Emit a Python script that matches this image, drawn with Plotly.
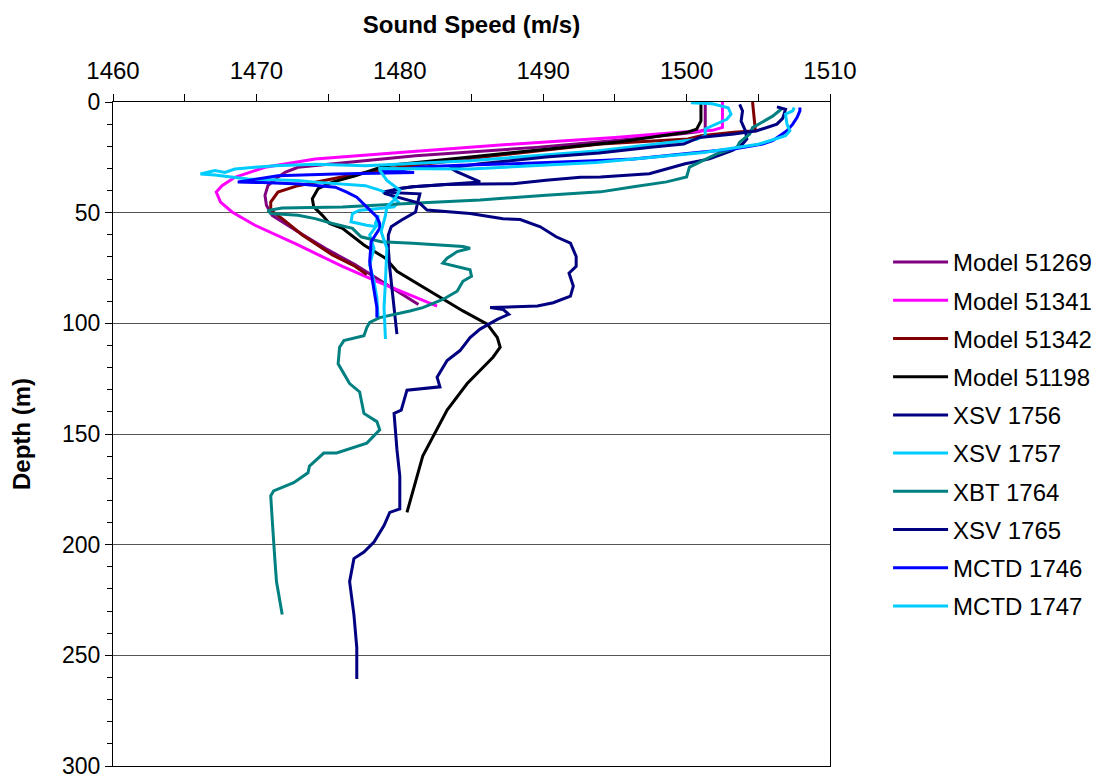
import plotly.graph_objects as go

# ---- data: (depth m, sound speed m/s) ----
MODEL_51269 = [(0,1501.3),(12.5,1501.3),(13.5,1500.8),(14.5,1499.5),(17.2,1495.4),(20.5,1489.5),(24.3,1481.1),(26.6,1477.6),(28.1,1474.8),(29.5,1472.9),(31.8,1472.0),(34.0,1471.5),(37.8,1470.8),(42.2,1470.6),(46.7,1470.7),(51.2,1471.1),(58.6,1472.9),(66.1,1474.8),(73.6,1476.9),(80.0,1478.5),(86.0,1480.0),(91.5,1481.3)]
MODEL_51341 = [(0,1502.5),(11.5,1502.5),(12.8,1501.8),(13.7,1499.5),(16.0,1495.0),(19.4,1487.0),(22.8,1480.0),(25.8,1474.1),(29.5,1470.6),(34.0,1468.5),(37.8,1467.6),(40.7,1467.2),(45.2,1467.5),(49.7,1468.3),(55.7,1469.9),(64.6,1472.9),(74.3,1476.0),(81.0,1478.4),(92.2,1482.6)]
MODEL_51342 = [(0,1504.6),(6.0,1504.7),(12.3,1504.8),(13.0,1504.8),(13.7,1503.3),(15.2,1501.0),(16.7,1500.1),(19.0,1494.0),(24.0,1487.0),(29.5,1480.0),(32.5,1477.0),(35.5,1474.8),(37.8,1472.9),(40.7,1471.5),(45.2,1471.0),(48.9,1471.0),(52.7,1471.8),(60.1,1473.2),(69.1,1475.3),(74.3,1476.9),(78.0,1477.7)]
MODEL_51198 = [(0,1501.0),(8.5,1501.0),(12.3,1500.7),(13.7,1500.0),(15.5,1498.0),(18.0,1495.4),(23.0,1487.6),(28.8,1479.0),(33.3,1476.9),(36.2,1475.3),(39.2,1474.3),(43.7,1473.9),(47.4,1474.0),(51.2,1474.6),(54.9,1475.1),(57.1,1476.0),(64.6,1477.5),(70.6,1479.0),(76.5,1479.8),(85.5,1482.1),(94.4,1484.4),(100.4,1486.1),(106.4,1486.8),(110.8,1487.0),(115.3,1486.5),(127.2,1484.7),(139.2,1483.3),(160.0,1481.6),(185.4,1480.5)]
XSV_1756 = [(1.1,1503.7),(4.0,1503.9),(8.6,1503.8),(13.0,1504.1),(16.7,1504.2),(19.0,1503.9),(21.9,1503.2),(25.7,1501.6),(27.9,1499.9),(29.4,1499.0),(32.4,1497.4),(33.9,1494.0),(34.0,1492.6),(35.4,1490.2),(36.9,1487.9),(37.0,1485.6),(37.3,1483.3),(38.3,1480.9),(39.1,1480.0),(40.8,1478.8),(41.0,1480.0),(41.5,1481.4),(46.7,1481.2),(49.7,1481.1),(53.4,1480.1),(56.4,1479.4),(60.1,1479.2),(66.1,1479.2),(75.0,1479.3),(81.0,1479.4),(95.9,1479.6),(104.9,1479.8)]
XSV_1757 = [(0.3,1500.3),(0.8,1501.8),(2.6,1502.9),(5.5,1503.1),(7.8,1502.8),(10.7,1501.8),(12.2,1501.3),(15.2,1501.3),(16.9,1500.7),(18.3,1498.8),(22.1,1493.7),(26.6,1484.9),(27.6,1481.1),(28.8,1477.6),(28.1,1474.1),(28.8,1471.3),(29.5,1469.9),(30.3,1468.5),(31.8,1467.8),(31.0,1467.1),(32.5,1466.1),(33.0,1467.1),(34.8,1469.4),(35.5,1472.9),(36.2,1474.1),(37.8,1477.6),(40.0,1478.7),(42.2,1479.4),(45.2,1479.9),(47.4,1479.6),(48.2,1478.4),(48.9,1477.2),(50.4,1476.7),(54.1,1476.6),(55.7,1477.7),(56.4,1478.4),(54.9,1478.3),(51.2,1478.5),(55.7,1478.4),(60.1,1477.9),(66.1,1478.2),(73.6,1477.9),(81.0,1478.2),(88.5,1478.4),(98.2,1478.5)]
XBT_1764 = [(2.7,1506.7),(6.4,1506.0),(11.6,1504.6),(14.5,1504.4),(18.2,1503.7),(20.6,1503.5),(23.4,1502.1),(26.4,1501.2),(29.4,1500.2),(33.9,1500.0),(36.1,1498.6),(38.3,1496.3),(40.6,1494.0),(42.1,1490.2),(44.3,1485.6),(45.8,1480.9),(46.5,1478.6),(47.4,1476.0),(47.9,1471.8),(49.0,1470.8),(50.4,1471.0),(51.2,1472.9),(52.7,1474.1),(54.9,1475.3),(57.1,1476.7),(60.9,1477.3),(63.1,1478.7),(63.8,1480.9),(65.3,1484.4),(66.1,1484.9),(67.6,1484.0),(70.6,1483.3),(72.8,1483.0),(74.3,1484.0),(75.8,1484.9),(78.7,1485.0),(81.0,1484.4),(85.5,1484.0),(89.2,1483.0),(92.9,1481.6),(94.4,1480.7),(97.4,1478.6),(99.6,1477.9),(101.9,1477.7),(105.6,1477.5),(107.8,1476.1),(110.8,1475.8),(118.3,1475.7),(124.3,1476.2),(127.2,1476.5),(131.0,1477.2),(134.7,1477.3),(140.7,1477.5),(144.4,1478.4),(148.1,1478.6),(154.1,1477.7),(158.6,1475.6),(158.6,1474.7),(164.5,1473.7),(167.5,1473.6),(172.0,1472.6),(175.7,1471.2),(177.9,1471.0),(188.4,1471.1),(200.3,1471.2),(207.8,1471.3),(216.7,1471.4),(224.2,1471.6),(231.6,1471.8)]
XSV_1765 = [(2.2,1506.3),(3.3,1506.9),(7.4,1506.7),(10.0,1506.3),(13.0,1504.9),(14.5,1503.3),(16.0,1500.9),(19.0,1499.8),(20.4,1497.5),(23.0,1493.9),(24.9,1490.2),(26.4,1487.9),(27.9,1485.6),(29.7,1483.5),(31.6,1484.0),(36.1,1485.6),(37.1,1483.3),(38.3,1480.9),(39.1,1480.0),(41.3,1478.9),(45.8,1481.4),(48.8,1481.9),(50.4,1484.9),(52.7,1487.2),(53.1,1488.4),(56.4,1489.8),(60.9,1490.9),(63.8,1491.9),(69.8,1492.3),(74.3,1492.3),(77.3,1491.8),(83.2,1492.1),(87.7,1491.9),(90.7,1490.7),(92.2,1489.6),(92.9,1486.3),(93.7,1487.2),(95.9,1487.6),(98.2,1486.8),(102.6,1485.6),(106.4,1484.9),(112.3,1484.2),(116.8,1483.3),(124.3,1482.6),(128.7,1482.8),(130.2,1480.5),(139.2,1480.1),(140.7,1479.6),(157.0,1479.8),(169.0,1480.0),(183.9,1480.0),(185.4,1479.3),(191.4,1478.9),(198.8,1478.2),(203.3,1477.5),(206.3,1476.8),(216.7,1476.5),(231.6,1476.8),(246.5,1477.0),(260.7,1477.0)]
MCTD_1746 = [(2.5,1507.9),(4.0,1507.9),(7.0,1507.7),(10.0,1507.4),(13.0,1507.0),(17.5,1506.0),(19.0,1505.3),(21.2,1503.3),(22.7,1500.9),(24.2,1498.6),(25.7,1496.3),(26.4,1494.0),(27.2,1491.2),(27.9,1487.9),(28.6,1484.2),(29.4,1481.4),(30.5,1480.0),(31.0,1478.6),(31.8,1481.0),(32.0,1478.0),(32.5,1475.5),(33.3,1471.5),(34.5,1470.3),(35.8,1468.9),(36.2,1468.7),(36.4,1470.4),(37.0,1473.0),(38.5,1475.5),(40.7,1476.3),(43.0,1477.0),(47.4,1477.7),(51.9,1478.4),(54.9,1478.6),(57.1,1478.6),(63.1,1478.0),(72.0,1477.9),(81.0,1478.1),(92.9,1478.4),(97.4,1478.4)]
MCTD_1747 = [(2.5,1507.5),(4.0,1507.4),(5.5,1506.9),(10.0,1507.0),(13.0,1507.2),(15.2,1506.9),(17.5,1505.8),(19.1,1505.0),(22.8,1501.2),(27.3,1493.7),(30.3,1484.9),(30.1,1478.6),(30.9,1478.6),(35.4,1479.1),(39.8,1480.0),(44.3,1479.6),(47.3,1479.1),(51.2,1479.0),(58.6,1478.7),(66.1,1479.1),(81.0,1479.0),(92.9,1478.9),(107.1,1479.0)]

SERIES_NAMES = ["Model 51269", "Model 51341", "Model 51342", "Model 51198", "XSV 1756",
                "XSV 1757", "XBT 1764", "XSV 1765", "MCTD 1746", "MCTD 1747"]
SERIES_DATA = [MODEL_51269, MODEL_51341, MODEL_51342, MODEL_51198, XSV_1756,
               XSV_1757, XBT_1764, XSV_1765, MCTD_1746, MCTD_1747]
SERIES_COLORS = ["#800080", "#FF00FF", "#800000", "#000000", "#000080",
                 "#00CCFF", "#008080", "#000080", "#0000FF", "#00CCFF"]

X_TICKS = [1460, 1470, 1480, 1490, 1500, 1510]
Y_TICKS = [0, 50, 100, 150, 200, 250, 300]

FONT = "Liberation Sans, Arial, sans-serif"

fig = go.Figure()
for i, (name, data, color) in enumerate(zip(SERIES_NAMES, SERIES_DATA, SERIES_COLORS)):
    depth = [p[0] for p in data]
    speed = [p[1] for p in data]
    fig.add_trace(go.Scatter(x=speed, y=depth, mode="lines", name=name,
                             legendgroup=f"g{i}",
                             line=dict(color=color, width=3)))

fig.update_layout(
    width=1104, height=781,
    margin=dict(l=113, r=274, t=102, b=15, autoexpand=False),
    paper_bgcolor="white", plot_bgcolor="white",
    font=dict(family=FONT, size=22, color="black"),
    showlegend=True,
    legend=dict(x=1.081, y=0.5, xanchor="left", yanchor="middle",
                font=dict(family=FONT, size=24, color="black"),
                tracegroupgap=4, itemwidth=55, bgcolor="rgba(0,0,0,0)"),
    xaxis=dict(side="top", range=[1460, 1510], tickvals=X_TICKS, automargin=False,
               ticks="outside", ticklen=7, tickcolor="black", tickwidth=1,
               ticklabelstandoff=5, ticklabeloverflow="allow",
               minor=dict(dtick=5, ticks="outside", ticklen=7, tickcolor="black", showgrid=False),
               showline=True, linecolor="black", linewidth=1, mirror=True,
               showgrid=False, zeroline=False,
               tickfont=dict(family=FONT, size=24),
               title=dict(text="Sound Speed (m/s)", standoff=17,
                          font=dict(family=FONT, size=24, weight="bold"))),
    yaxis=dict(range=[300, 0], tickvals=Y_TICKS, automargin=False,
               ticks="outside", ticklen=7, tickcolor="black", tickwidth=1,
               ticklabeloverflow="allow",
               minor=dict(dtick=10, ticks="outside", ticklen=5, tickcolor="black", showgrid=False),
               showline=True, linecolor="black", linewidth=1, mirror=True,
               showgrid=True, gridcolor="#555555", gridwidth=1, zeroline=False,
               tickfont=dict(family=FONT, size=23),
               title=dict(text="Depth (m)", standoff=24,
                          font=dict(family=FONT, size=24, weight="bold"))),
)

fig.write_html("out.html", include_plotlyjs=True, full_html=True,
               config={"displayModeBar": False},
               post_script="document.body.style.margin='0';document.body.style.overflow='hidden';")
